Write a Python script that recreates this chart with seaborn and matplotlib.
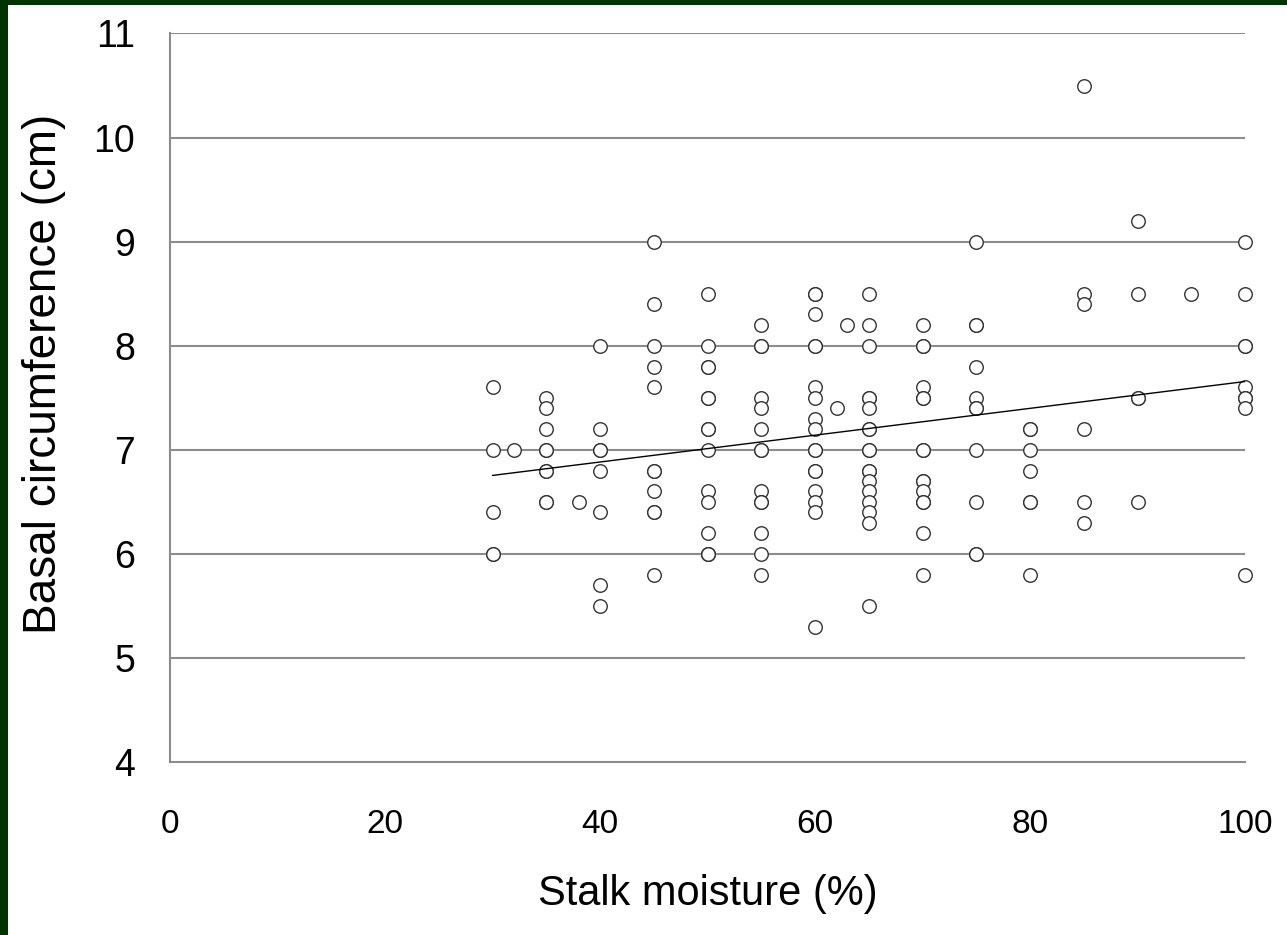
import matplotlib
matplotlib.use("Agg")
import matplotlib.pyplot as plt
import numpy as np
import pandas as pd
import seaborn as sns
from matplotlib.patches import Rectangle

# values, grouped by stalk moisture column
moisture_levels = [30, 32, 35, 38, 40, 45, 50, 55, 60, 62, 63, 65, 70, 75, 80, 85, 90, 95, 100]
circ_30 = [7.6, 7.0, 6.4, 6.0, 6.0]
circ_32 = [7.0]
circ_35 = [7.5, 7.4, 7.2, 7.0, 7.0, 6.8, 6.8, 6.5, 6.5]
circ_38 = [6.5]
circ_40 = [8.0, 7.2, 7.0, 7.0, 6.8, 6.4, 5.7, 5.5]
circ_45 = [9.0, 8.4, 8.0, 7.8, 7.6, 6.8, 6.8, 6.6, 6.4, 6.4, 5.8]
circ_50 = [8.5, 8.0, 7.8, 7.8, 7.5, 7.5, 7.2, 7.2, 7.0, 6.6, 6.5, 6.2, 6.0, 6.0, 6.0]
circ_55 = [8.2, 8.0, 8.0, 7.5, 7.4, 7.2, 7.0, 7.0, 6.6, 6.5, 6.5, 6.2, 6.0, 5.8]
circ_60 = [8.5, 8.5, 8.3, 8.0, 8.0, 7.6, 7.5, 7.3, 7.2, 7.0, 7.0, 6.8, 6.8, 6.6, 6.5, 6.4, 5.3]
circ_62 = [7.4]
circ_63 = [8.2]
circ_65 = [8.5, 8.2, 8.0, 7.5, 7.5, 7.4, 7.2, 7.2, 7.0, 7.0, 6.8, 6.8, 6.7, 6.6, 6.5, 6.4, 6.3, 5.5]
circ_70 = [8.2, 8.0, 8.0, 7.6, 7.5, 7.5, 7.0, 7.0, 6.7, 6.7, 6.6, 6.5, 6.5, 6.2, 5.8]
circ_75 = [9.0, 8.2, 8.2, 7.8, 7.5, 7.4, 7.4, 7.0, 6.5, 6.0, 6.0]
circ_80 = [7.2, 7.2, 7.0, 6.8, 6.5, 6.5, 5.8]
circ_85 = [10.5, 8.5, 8.4, 7.2, 6.5, 6.3]
circ_90 = [9.2, 8.5, 7.5, 7.5, 6.5]
circ_95 = [8.5]
circ_100 = [9.0, 8.5, 8.0, 8.0, 7.6, 7.5, 7.5, 7.4, 5.8]

columns = [circ_30, circ_32, circ_35, circ_38, circ_40, circ_45, circ_50, circ_55,
           circ_60, circ_62, circ_63, circ_65, circ_70, circ_75, circ_80, circ_85,
           circ_90, circ_95, circ_100]

x_ticks = [0, 20, 40, 60, 80, 100]
y_ticks = [4, 5, 6, 7, 8, 9, 10, 11]

rows = []
for m, vals in zip(moisture_levels, columns):
    for v in vals:
        rows.append((m, v))
df = pd.DataFrame(rows, columns=["moisture", "circumference"])

sns.set_style("white")
plt.rcParams["font.family"] = ["Liberation Sans", "DejaVu Sans"]
plt.rcParams["text.color"] = "black"
plt.rcParams["axes.labelcolor"] = "black"
plt.rcParams["xtick.labelcolor"] = "black"
plt.rcParams["ytick.labelcolor"] = "black"

fig = plt.figure(figsize=(12.87, 9.35), dpi=100)
ax = fig.add_axes([0.1321, 0.185, 0.9674 - 0.1321, 0.9642 - 0.185])

grid_col = "#8c8c8c"
for t in y_ticks[1:]:
    ax.axhline(t, color=grid_col, lw=1.5, zorder=0)

sns.regplot(data=df, x="moisture", y="circumference", ci=None, ax=ax,
            scatter_kws=dict(s=95, facecolors="white", edgecolors="#333333",
                             linewidths=1.0, alpha=1, zorder=3, clip_on=False),
            line_kws=dict(color="black", lw=1.0, zorder=4))

ax.set_xlim(0, 100)
ax.set_ylim(4, 11)
ax.set_xticks(x_ticks)
ax.set_yticks(y_ticks)
ax.set_xticklabels([str(t) for t in x_ticks], fontsize=24)
ax.set_yticklabels([str(t) for t in y_ticks], fontsize=27)
ax.tick_params(axis="x", direction="out", length=6, width=1.2, color=grid_col, pad=28)
ax.tick_params(axis="y", direction="out", length=9, width=1.2, color=grid_col, pad=16)

for side in ["top", "right"]:
    ax.spines[side].set_visible(False)
for side in ["left", "bottom"]:
    ax.spines[side].set_color(grid_col)
    ax.spines[side].set_linewidth(1.5)

ax.set_xlabel("Stalk moisture (%)", fontsize=30, labelpad=24)
ax.set_ylabel("Basal circumference (cm)", fontsize=33)
ax.yaxis.set_label_coords(-0.097, 0.533)

# dark green frame at the left and top edges
fig.patches.append(Rectangle((0, 0), 8 / 1287, 1, transform=fig.transFigure,
                             facecolor="#003300", edgecolor="none", zorder=0))
fig.patches.append(Rectangle((0, 1 - 5 / 935), 1, 5 / 935, transform=fig.transFigure,
                             facecolor="#003300", edgecolor="none", zorder=0))

fig.savefig("out.png", dpi=100)
